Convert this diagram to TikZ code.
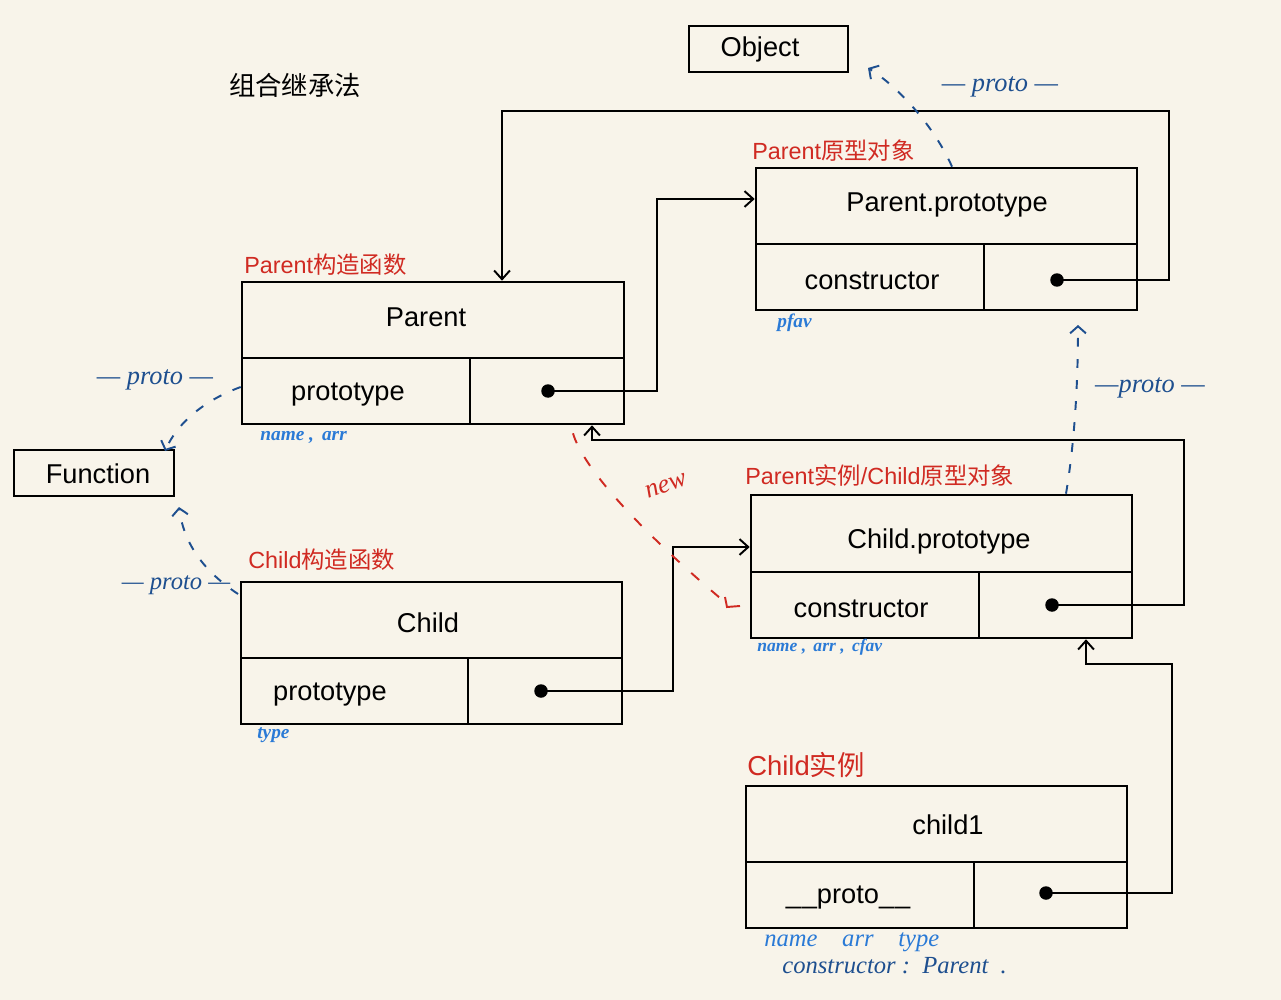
\documentclass[tikz,border=0pt]{standalone}
\usepackage{fontspec}
\setmainfont{Liberation Sans}
\newfontfamily\cjk{Noto Sans CJK SC}
\newfontfamily\hand{Liberation Serif}
\usetikzlibrary{arrows.meta}
\definecolor{bg}{HTML}{F8F4EA}
\definecolor{lred}{HTML}{D02A22}
\definecolor{dblue}{HTML}{1E4F8F}
\definecolor{lblue}{HTML}{2A7AD6}
\begin{document}
\begin{tikzpicture}[x=0.02cm,y=-0.02cm,
 frame/.style={draw, line width=1.5pt, inner sep=0pt, minimum width=7.62cm, minimum height=2.84cm},
 small/.style={draw, line width=1.5pt, inner sep=0pt, minimum width=3.18cm, minimum height=0.92cm},
 div/.style={line width=1.5pt},
 txt/.style={font=\fontsize{15.5}{18}\selectfont, inner sep=0pt},
 lab/.style={text=lred, font=\fontsize{13.3}{16}\selectfont, anchor=west, inner sep=0pt},
 conn/.style={line width=1.1pt, -{Straight Barb[length=5pt,width=9pt]}},
 dotn/.style={circle, fill, inner sep=0pt, minimum size=0.27cm},
 proto/.style={dblue, line width=1.1pt, dash pattern=on 5pt off 7pt, -{Straight Barb[length=4pt,width=9pt]}},
 plab/.style={text=dblue, font=\hand\itshape\fontsize{15}{18}\selectfont, inner sep=0pt},
 note/.style={text=lblue, font=\hand\itshape\bfseries\fontsize{11}{13}\selectfont, anchor=west, inner sep=0pt}]
\path[use as bounding box, fill=bg] (0,0) rectangle (1281,1000);

% title
\node[font=\cjk\fontsize{15}{18}\selectfont, inner sep=0pt] (title) at (295,85) {组合继承法};

% Object & Function
\node[small] (O) at (768.5,49) {};
\node[txt] (Ot) at (760,49) {Object};
\node[small, minimum width=3.2cm] (F) at (94,473) {};
\node[txt] (Ft) at (98,474) {Function};

% Parent
\node[frame, minimum width=7.64cm] (P) at (433,353) {};
\draw[div] (242,358) -- (624,358) (470,358) -- (470,424);
\node[txt] (Pt) at (426,317) {Parent};
\node[txt] (Pf) at (348,395) {prototype};
\node[dotn] (Pd) at (548,391) {};
\node[lab] (Pl) at (244,265) {Parent{\cjk 构造函数}};

% Parent.prototype
\node[frame] (PP) at (946.5,239) {};
\draw[div] (756,244) -- (1137,244) (984,244) -- (984,310);
\node[txt] (PPt) at (947,205) {Parent.prototype};
\node[txt] (PPf) at (872,281) {constructor};
\node[dotn] (PPd) at (1057,280) {};
\node[lab] (PPl) at (752,151) {Parent{\cjk 原型对象}};

% Child
\node[frame] (C) at (431.5,653) {};
\draw[div] (241,658) -- (622,658) (468,658) -- (468,724);
\node[txt] (Ct) at (428,623) {Child};
\node[txt] (Cf) at (330,695) {prototype};
\node[dotn] (Cd) at (541,691) {};
\node[lab] (Cl) at (248,560) {Child{\cjk 构造函数}};

% Child.prototype
\node[frame, minimum height=2.86cm] (CP) at (941.5,566.5) {};
\draw[div] (751,572) -- (1132,572) (979,572) -- (979,638);
\node[txt] (CPt) at (939,541) {Child.prototype};
\node[txt] (CPf) at (861,609) {constructor};
\node[dotn] (CPd) at (1052,605) {};
\node[lab] (CPl) at (745,476) {Parent{\cjk 实例}/Child{\cjk 原型对象}};

% child1
\node[frame] (C1) at (936.5,857) {};
\draw[div] (746,862) -- (1127,862) (974,862) -- (974,928);
\node[txt] (C1t) at (948,825) {child1};
\node[txt] (C1f) at (848,898) {\_\kern0.5pt\_proto\_\kern0.5pt\_};
\node[dotn] (C1d) at (1046,893) {};
\node[lab, font=\fontsize{15.6}{18}\selectfont] (C1l) at (747,765) {Child{\cjk 实例}};

% connectors
\draw[conn] (Pd.center) -- (657,391) |- (PP.west |- 0,199);
\draw[conn] (PPd.center) -- (1169,280) |- (502,111) -- (P.north -| 502,0);
\draw[conn] (Cd.center) -- (673,691) |- (CP.west |- 0,547);
\draw[conn] (CPd.center) -- (1184,605) |- (592,440) -- (P.south -| 592,0);
\draw[conn] (C1d.center) -- (1172,893) |- (1086,664) -- (CP.south -| 1086,0);

% __proto__ links
\coordinate (Oa) at (868,68);
\coordinate (Fa) at (165,451);
\coordinate (Fb) at (179,507);
\coordinate (PPa) at (1078,325);
\draw[proto] (PP.north -| 952,0) .. controls (935,128) and (900,88) .. (Oa);
\draw[proto] (P.west |- 0,387) .. controls (205,400) and (178,422) .. (Fa);
\draw[proto] (238,594) .. controls (205,572) and (184,545) .. (Fb);
\draw[proto] (CP.north -| 1066,0) .. controls (1075,440) and (1078,380) .. (PPa);
\node[plab] (p1) at (1000,87) {— proto —};
\node[plab] (p2) at (155,380) {— proto —};
\node[plab, font=\hand\itshape\fontsize{14}{17}\selectfont] (p3) at (176,585) {— proto —};
\node[plab] (p4) at (1150,388) {—proto —};

% new
\coordinate (Na) at (720,598);
\draw[lred, line width=1.1pt, dash pattern=on 6pt off 9pt] (P.south -| 573,0) ++(0,8) .. controls (583,468) and (640,530) .. (Na);
\draw[lred, line width=1.1pt] (725,597) -- (727,607) -- (740,606);
\node[text=lred, font=\hand\itshape\fontsize{15}{18}\selectfont, rotate=20, inner sep=0pt] (nw) at (666,486) {new};

% notes
\node[note] (n1) at (260,437) {name ,\, arr};
\node[note] (n2) at (777,323) {pfav};
\node[note, font=\hand\itshape\bfseries\fontsize{10}{12}\selectfont] (n3) at (757,647) {name ,\, arr ,\, cfav};
\node[note] (n4) at (257,735) {type};
\node[note, font=\hand\itshape\fontsize{14}{16}\selectfont] (n5) at (764,942) {name\quad arr\quad type};
\node[note, text=dblue, font=\hand\itshape\fontsize{14}{16}\selectfont] (n6) at (782,966) {constructor :\ \ Parent\ \ .};
\end{tikzpicture}
\end{document}
